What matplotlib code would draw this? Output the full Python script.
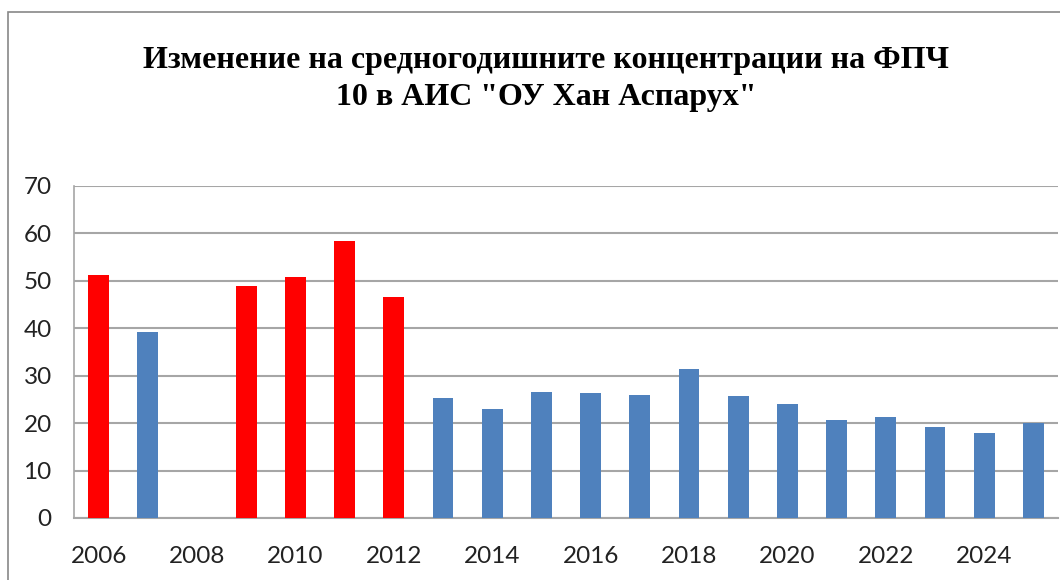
import matplotlib
matplotlib.use("Agg")
import matplotlib.pyplot as plt
from matplotlib.patches import Rectangle
import numpy as np

years = list(range(2006, 2026))
values = [51.2, 39.3, np.nan, 49.0, 50.9, 58.5, 46.6, 25.2, 23.0, 26.6, 26.3,
          26.0, 31.4, 25.7, 24.1, 20.6, 21.4, 19.2, 18.0, 20.0]
red_years = [2006, 2009, 2010, 2011, 2012]
tick_years = list(range(2006, 2026, 2))
yticks = list(range(0, 80, 10))
title = 'Изменение на средногодишните концентрации на ФПЧ\n10 в АИС "ОУ Хан Аспарух"'

W, H = 1060, 580
fig = plt.figure(figsize=(W / 100, H / 100), dpi=100)
fig.patch.set_facecolor("white")

# outer chart border (cropped)
fig.add_artist(Rectangle((8 / W, -0.1), 1.2, (H - 12) / H + 0.1, transform=fig.transFigure,
                         fill=False, edgecolor="#888888", linewidth=1.2))

left, right, top, bottom = 74, 1058, 186, 518
ax = fig.add_axes([left / W, 1 - bottom / H, (right - left) / W, (bottom - top) / H])

x = np.arange(len(years))
colors = ["#FF0000" if y in red_years else "#4F81BD" for y in years]
ax.bar(x, values, width=0.42, color=colors, zorder=3)

ax.set_xlim(-0.5, len(years) - 0.5)
ax.set_ylim(0, 70)
ax.set_yticks(yticks)
ax.set_yticklabels([str(v) for v in yticks], fontsize=17.5, family="Lato", color="#222222")
ax.set_xticks([years.index(y) for y in tick_years])
ax.set_xticklabels([str(y) for y in tick_years], fontsize=17.5, family="Lato", color="#222222")
ax.tick_params(axis="both", length=0)
ax.tick_params(axis="y", pad=16)
ax.tick_params(axis="x", pad=20)
ax.grid(axis="y", color="#A6A6A6", linewidth=1.5, zorder=0)
for s in ["top", "right"]:
    ax.spines[s].set_visible(False)
ax.spines["left"].set_color("#A6A6A6")
ax.spines["left"].set_linewidth(1.2)
ax.spines["bottom"].set_color("#A6A6A6")
ax.spines["bottom"].set_linewidth(1.5)

fig.text(546 / W, 1 - 79 / H, title, ha="center", va="center", fontsize=23,
         fontweight="bold", family="Liberation Serif", linespacing=1.38)

fig.savefig("out.png", dpi=100)
